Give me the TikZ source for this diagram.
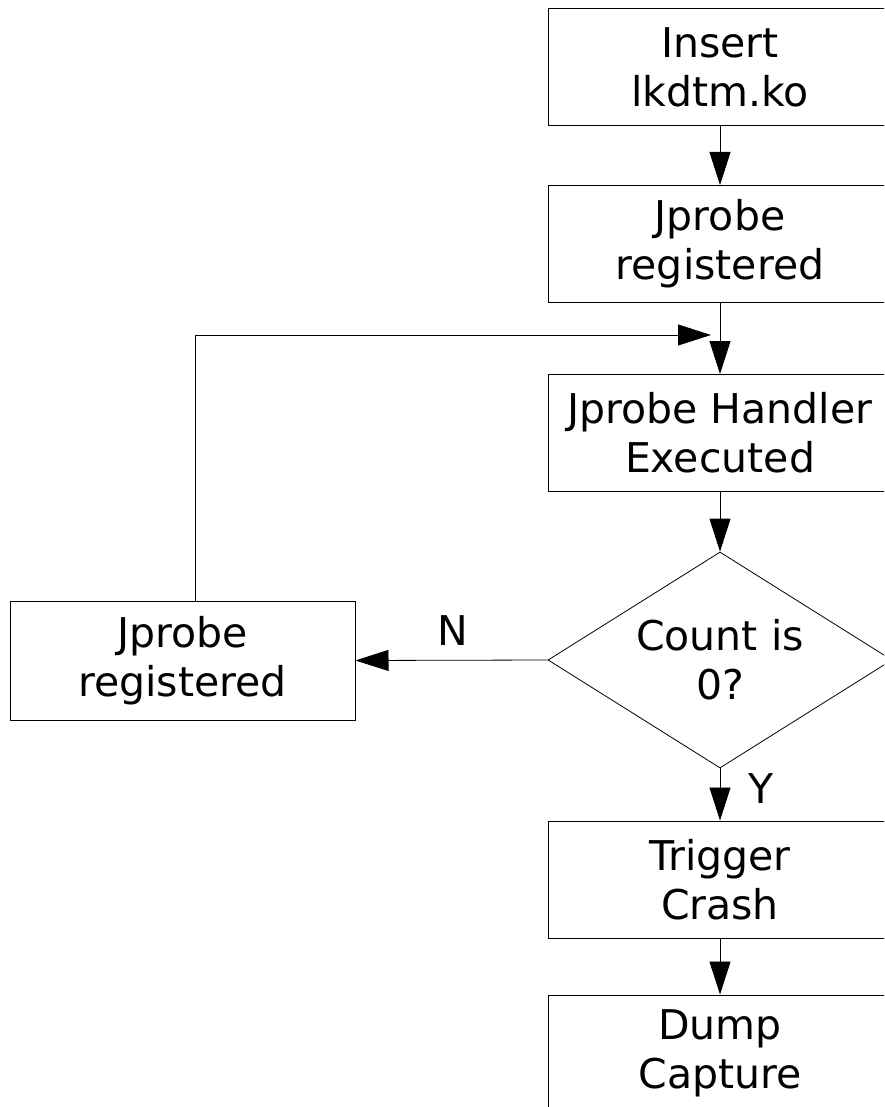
\documentclass[tikz,border=0pt]{standalone}
\usepackage{fontspec}
\setmainfont{DejaVu Sans}
\usetikzlibrary{arrows.meta,shapes.geometric}
\tikzset{
  stepbox/.style={draw, line width=1pt, rectangle, inner sep=0pt,
    minimum width=344pt, minimum height=117pt, align=center,
    font=\fontsize{41}{49}\selectfont},
  decision/.style={draw, line width=0.8pt, diamond, aspect=1.59, inner sep=0pt,
    minimum width=344pt, minimum height=216pt, align=center,
    font=\fontsize{41}{49}\selectfont},
  flow/.style={line width=0.8pt, -{Triangle[length=33pt,width=21pt]}},
  lbl/.style={font=\fontsize{41}{49}\selectfont, inner sep=0pt}
}
\begin{document}
\begin{tikzpicture}[x=1pt,y=-1pt]
  \useasboundingbox (0,0) rectangle (884,1107);
  \clip (0,0) rectangle (884,1107);
  % main column
  \node[stepbox] (ins)  at (720,67.5)  {Insert\\lkdtm.ko};
  \node[stepbox] (reg)  at (720,244)   {Jprobe\\registered};
  \node[stepbox] (hdl)  at (720,433)   {Jprobe Handler\\Executed};
  \node[decision] (cnt) at (720,660)   {Count is\\0?};
  \node[stepbox] (trg)  at (720,879.5) {Trigger\\Crash};
  \node[stepbox] (dmp)  at (720,1053.5){Dump\\Capture};
  % side branch
  \node[stepbox, minimum width=345pt, minimum height=119pt] (rereg) at (182.5,660.5) {Jprobe\\registered};
  \coordinate (corner) at (195,335);
  \coordinate (join) at (711,335);
  % connectors
  \draw[flow] (ins) -- (reg);
  \draw[flow] (reg) -- (hdl);
  \draw[flow] (hdl) -- (cnt.north);
  \draw[flow] (cnt.south) -- (trg);
  \draw[flow] (trg) -- (dmp);
  \draw[flow] (cnt.west) -- (rereg.east);
  \draw[flow] (rereg.north -| corner) -- (corner) -- (join);
  % branch labels
  \node[lbl] (nlab) at (453,631) {N};
  \node[lbl] (ylab) at (761,789) {Y};
\end{tikzpicture}
\end{document}
